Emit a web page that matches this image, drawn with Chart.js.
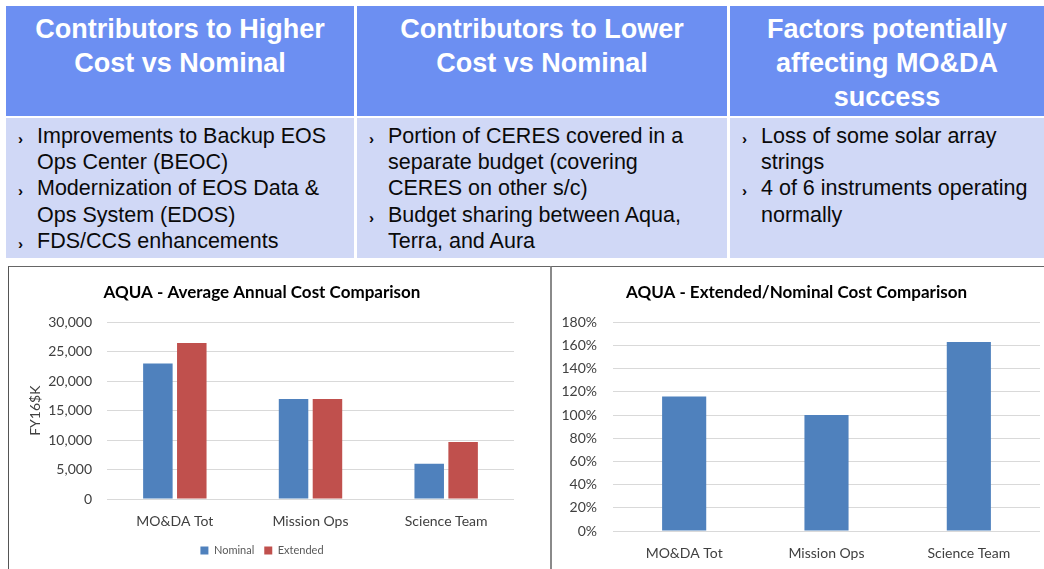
<!DOCTYPE html>
<html>
<head>
<meta charset="utf-8">
<script src="https://cdn.jsdelivr.net/npm/chart.js@4"></script>
<style>
  html, body { margin: 0; padding: 0; background: #fff; }
  body { width: 1044px; height: 569px; position: relative; overflow: hidden; font-family: "Liberation Sans", Arial, sans-serif; }
  .cell { position: absolute; box-sizing: border-box; }
  .head { top: 6px; height: 110px; background: #6c8ff2; color: #fff; font-weight: bold; font-size: 27px; line-height: 34px; text-align: center; padding-top: 6px; white-space: nowrap; }
  .body { top: 118px; height: 140px; background: #d0d8f6; color: #0a0a0a; font-size: 21.5px; line-height: 26.2px; padding-top: 5px; white-space: nowrap; }
  .body div { position: relative; padding-left: 31px; }
  .body div.b::before { content: "\203A"; position: absolute; left: 12px; top: 3px; font-size: 15px; font-weight: bold; }
  .frame { position: absolute; top: 266px; height: 310px; border-top: 1px solid #666; box-sizing: border-box; }
  canvas { position: absolute; }
</style>
</head>
<body>
<div class="cell head" style="left:6px;width:348px">Contributors to Higher<br>Cost vs Nominal</div>
<div class="cell head" style="left:357px;width:370px">Contributors to Lower<br>Cost vs Nominal</div>
<div class="cell head" style="left:730px;width:314px">Factors potentially<br>affecting MO&amp;DA<br>success</div>

<div class="cell body" style="left:6px;width:348px">
  <div class="b">Improvements to Backup EOS</div>
  <div>Ops Center (BEOC)</div>
  <div class="b">Modernization of EOS Data &amp;</div>
  <div>Ops System (EDOS)</div>
  <div class="b">FDS/CCS enhancements</div>
</div>
<div class="cell body" style="left:357px;width:370px">
  <div class="b">Portion of CERES covered in a</div>
  <div>separate budget (covering</div>
  <div>CERES on other s/c)</div>
  <div class="b">Budget sharing between Aqua,</div>
  <div>Terra, and Aura</div>
</div>
<div class="cell body" style="left:730px;width:314px">
  <div class="b">Loss of some solar array</div>
  <div>strings</div>
  <div class="b">4 of 6 instruments operating</div>
  <div>normally</div>
</div>

<div class="frame" style="left:8px;width:543px;border-left:1px solid #555"></div>
<div class="frame" style="left:550px;width:494px;border-left:2px solid #8a8a8a"></div>

<canvas id="costChart" width="540" height="301" style="left:10px;top:268px"></canvas>
<canvas id="ratioChart" width="491" height="301" style="left:553px;top:268px"></canvas>

<script>
// 数据
const categories = ['MO&DA Tot', 'Mission Ops', 'Science Team'];
const nominalCost = [23000, 17000, 6000];
const extendedCost = [26500, 17000, 9700];
const extNomRatio = [116, 100, 163];

const blue = '#4f81bd';
const red = '#c0504d';
const gridColor = '#d9d9d9';
const tickColor = '#595959';
const fontFamily = 'Lato, "Open Sans", sans-serif';

Chart.defaults.font.family = fontFamily;
Chart.defaults.animation = false;

// 平均年度成本
new Chart(document.getElementById('costChart'), {
    type: 'bar',
    data: {
        labels: categories,
        datasets: [
            { label: 'Nominal', data: nominalCost, backgroundColor: blue },
            { label: 'Extended', data: extendedCost, backgroundColor: red }
        ]
    },
    options: {
        responsive: false,
        layout: { padding: { left: 0, right: 36, top: 0, bottom: 3 } },
        datasets: { bar: { categoryPercentage: 0.5, barPercentage: 0.87 } },
        plugins: {
            title: {
                display: true,
                text: 'AQUA - Average Annual Cost Comparison',
                color: '#000',
                font: { size: 17, weight: 'bold' },
                padding: { top: 14, bottom: 20 }
            },
            legend: {
                position: 'bottom',
                labels: { boxWidth: 8, boxHeight: 8, color: tickColor, font: { size: 11 }, padding: 10 }
            },
            tooltip: { enabled: false }
        },
        scales: {
            x: {
                grid: { display: false },
                border: { display: false },
                ticks: { color: '#404040', font: { size: 14 }, padding: 6 },
                afterFit: (s) => { s.height = 36; }
            },
            y: {
                min: 0,
                max: 30000,
                grid: { color: gridColor, drawTicks: false },
                border: { display: false },
                ticks: {
                    stepSize: 5000,
                    color: '#404040',
                    font: { size: 14 },
                    padding: 15,
                    callback: (v) => v.toLocaleString('en-US')
                },
                title: {
                    display: true,
                    text: 'FY16$K',
                    color: '#404040',
                    font: { size: 14 },
                    padding: { top: 17, bottom: 0 }
                },
                afterFit: (s) => { s.width = 97; }
            }
        }
    }
});

// 延长/名义成本比
new Chart(document.getElementById('ratioChart'), {
    type: 'bar',
    data: {
        labels: categories,
        datasets: [
            { label: 'Extended/Nominal', data: extNomRatio, backgroundColor: blue }
        ]
    },
    options: {
        responsive: false,
        layout: { padding: { left: 0, right: 4, top: 0, bottom: 0 } },
        datasets: { bar: { categoryPercentage: 0.31, barPercentage: 1 } },
        plugins: {
            title: {
                display: true,
                text: 'AQUA - Extended/Nominal Cost Comparison',
                color: '#000',
                font: { size: 17, weight: 'bold' },
                padding: { top: 14, bottom: 20 }
            },
            legend: { display: false },
            tooltip: { enabled: false }
        },
        scales: {
            x: {
                grid: { display: false },
                border: { display: false },
                ticks: { color: '#404040', font: { size: 14 }, padding: 6 },
                afterFit: (s) => { s.height = 38; }
            },
            y: {
                min: 0,
                max: 180,
                grid: { color: gridColor, drawTicks: false },
                border: { display: false },
                ticks: {
                    stepSize: 20,
                    color: '#404040',
                    font: { size: 14 },
                    padding: 16,
                    callback: (v) => v + '%'
                },
                afterFit: (s) => { s.width = 60; }
            }
        }
    }
});
</script>
</body>
</html>
